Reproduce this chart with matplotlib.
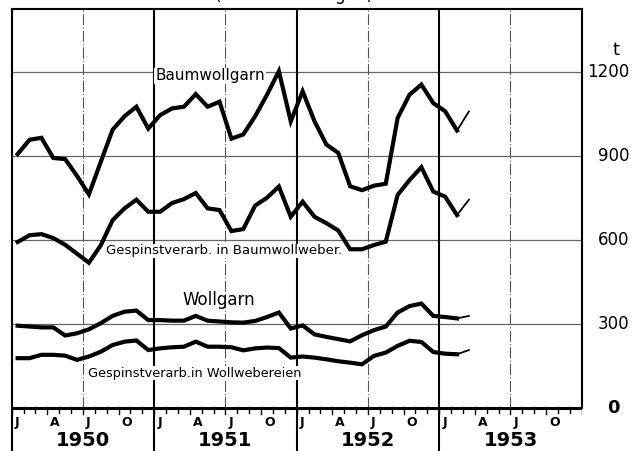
import numpy as np
import matplotlib
matplotlib.use('Agg')
import matplotlib.pyplot as plt

# Monatswerte Jan 1950 - Maerz 1953 (t), letzter Abschnitt vorlaeufig (duenn)
baumwollgarn = [908, 959, 966, 894, 890, 830, 764, 880, 995, 1043, 1077, 999,
                1047, 1071, 1077, 1122, 1077, 1095, 963, 978, 1043, 1120, 1204, 1025,
                1132, 1025, 942, 912, 793, 779, 795, 802, 1037, 1120, 1156, 1090,
                1061, 992, 1060]
gesp_baumwolle = [594, 618, 622, 608, 584, 552, 520, 582, 672, 714, 745, 702,
                  702, 733, 747, 769, 714, 708, 633, 640, 724, 752, 792, 684,
                  738, 684, 661, 635, 568, 568, 583, 595, 762, 815, 861, 774,
                  756, 690, 745]
wollgarn = [295, 292, 289, 289, 260, 268, 282, 304, 330, 345, 349, 315,
            315, 313, 313, 330, 313, 310, 307, 306, 312, 326, 342, 285,
            296, 264, 255, 247, 239, 261, 279, 292, 342, 365, 374, 330,
            326, 321, 330]
gesp_wolle = [179, 179, 191, 191, 188, 173, 185, 202, 226, 238, 242, 208,
              214, 218, 220, 238, 220, 220, 218, 207, 214, 217, 215, 181,
              185, 181, 175, 168, 163, 157, 187, 199, 223, 241, 237, 201,
              195, 193, 208]

jahre = ['1950', '1951', '1952', '1953']
monate = ['J', 'A', 'J', 'O']
y_ticks = [300, 600, 900, 1200]

plt.rcParams['font.family'] = ['DejaVu Sans']

fig = plt.figure(figsize=(6.4, 4.51), dpi=100)
ax = fig.add_axes([0.0183, 0.0, 0.8906, 0.98])
ax.set_xlim(0, 48)
ax.set_ylim(-152.5, 1426)

ax.spines['bottom'].set_visible(False)
ax.spines['right'].set_bounds(0, 1426)
for s in ['left', 'top', 'right']:
    ax.spines[s].set_linewidth(1.5)
ax.set_xticks([])
ax.set_yticks([])

# Gitter
ax.hlines(y_ticks, 0, 48, color='#666666', lw=0.9, zorder=1)
ax.vlines([6, 18, 30, 42], 0, 1426, color='#555555', lw=0.8,
          linestyles=(0, (10, 2, 1, 2)), zorder=1)
ax.vlines([12, 24, 36], -152.5, 1426, color='k', lw=1.5, zorder=1)
ax.hlines(0, 0, 48, color='k', lw=2.2, zorder=2)

# Monatsstriche
for m in range(49):
    lo = -22 if m % 3 == 0 else -15
    ax.plot([m, m], [lo, 6], color='k', lw=1, zorder=2)

for j, jahr in enumerate(jahre):
    for q, mo in enumerate(monate):
        ax.text(j * 12 + q * 3 + 0.25, -52, mo, fontsize=9, fontweight='bold',
                ha='left', va='center')
    ax.text(j * 12 + 6, -114, jahr, fontsize=14, fontweight='bold',
            ha='center', va='center')

box = dict(facecolor='white', edgecolor='none', pad=0.5)
ax.text(16.7, 1187, 'Baumwollgarn', fontsize=11, ha='center', va='center',
        bbox=box, zorder=2.5)
ax.text(17.9, 562, 'Gespinstverarb. in Baumwollweber.', fontsize=9.5,
        ha='center', va='center', bbox=box, zorder=2.5)
ax.text(17.4, 387, 'Wollgarn', fontsize=12, ha='center', va='center', zorder=2.5)
ax.text(15.4, 126, 'Gespinstverarb.in Wollwebereien', fontsize=9.3,
        ha='center', va='center', bbox=box, zorder=2.5)

# Kurven
x = np.arange(len(baumwollgarn)) + 0.5
for serie in [baumwollgarn, gesp_baumwolle, wollgarn, gesp_wolle]:
    ax.plot(x[:-1], serie[:-1], color='k', lw=3, solid_joinstyle='miter', zorder=3)
    ax.plot(x[-2:], serie[-2:], color='k', lw=1.3, zorder=3)

# rechte Skala
for v in y_ticks:
    ax.text(1.083, v, str(v), transform=ax.get_yaxis_transform(), fontsize=12,
            ha='right', va='center', clip_on=False)
ax.text(1.056, 0, '0', transform=ax.get_yaxis_transform(), fontsize=13,
        fontweight='bold', ha='center', va='center', clip_on=False)
ax.text(1.06, 1280, 't', transform=ax.get_yaxis_transform(), fontsize=13,
        ha='center', va='center', clip_on=False)

fig.text(0.46, 1.012, '(Grobschätzungen)', fontsize=12, ha='center', va='center')

fig.savefig('out.png', dpi=100)
